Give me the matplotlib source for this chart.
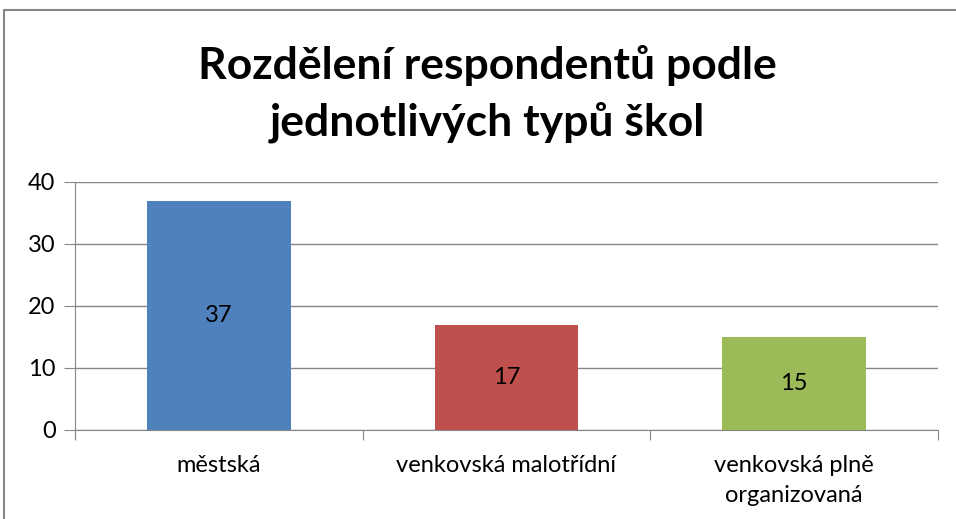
import matplotlib.pyplot as plt
import numpy as np
from matplotlib.patches import Rectangle

categories = ['městská', 'venkovská malotřídní', 'venkovská plně\norganizovaná']
values = [37, 17, 15]
colors = ['#4F81BD', '#C0504D', '#9BBB59']
title = 'Rozdělení respondentů podle\njednotlivých typů škol'

plt.rcParams['font.family'] = ['Lato', 'DejaVu Sans']

fig = plt.figure(figsize=(9.56, 5.19), dpi=100)
ax = fig.add_axes([75 / 956, 1 - 430 / 519, (938 - 75) / 956, (430 - 182) / 519])

x = np.arange(len(categories))
bars = ax.bar(x, values, width=0.5, color=colors, zorder=3)
for b, v in zip(bars, values):
    ax.text(b.get_x() + b.get_width() / 2, v / 2, str(v), ha='center', va='center',
            fontsize=17, color='#000000', zorder=4)

ax.set_xlim(-0.5, len(categories) - 0.5)
ax.set_ylim(0, 40)
ax.set_yticks([0, 10, 20, 30, 40])
ax.tick_params(axis='y', labelsize=17, length=8, color='#868686', pad=6)
ax.yaxis.grid(True, color='#868686', linewidth=1, zorder=0)

# category labels between boundary ticks
ax.set_xticks(np.arange(-0.5, len(categories)), labels=[''] * (len(categories) + 1))
ax.set_xticks(x, labels=categories, minor=True)
ax.tick_params(axis='x', which='major', length=7, color='#868686')
ax.tick_params(axis='x', which='minor', length=0, labelsize=17, pad=18)
for lbl in ax.get_xticklabels(minor=True):
    lbl.set_linespacing(1.5)

for s in ['top', 'right']:
    ax.spines[s].set_visible(False)
for s in ['left', 'bottom']:
    ax.spines[s].set_color('#868686')
ax.spines['left'].set_bounds(-1.2, 40)
ax.spines['left'].set_clip_on(False)

fig.text(487 / 956, 1 - 94 / 519, title, ha='center', va='center', fontsize=32,
         fontweight='bold', linespacing=1.45)

fig.patches.append(Rectangle((4 / 956, -0.1), 1.2, 1 - 10 / 519 + 0.1, transform=fig.transFigure,
                             fill=False, edgecolor='#868686', linewidth=1.5))

fig.savefig('out.png', dpi=100)
